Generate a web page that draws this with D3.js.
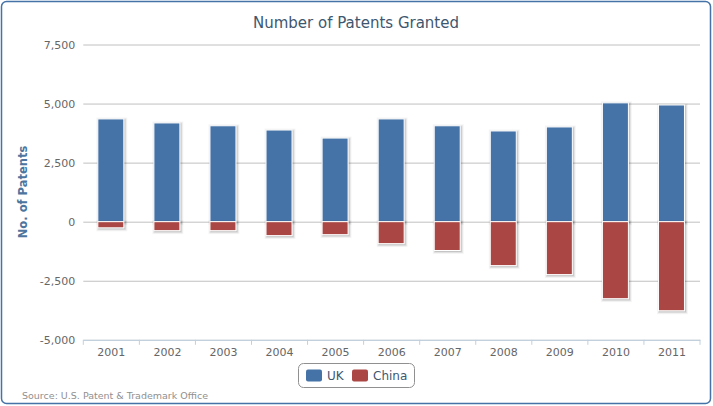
<!DOCTYPE html>
<html><head><meta charset="utf-8">
<script src="https://cdn.jsdelivr.net/npm/d3@7"></script>
<style>body{margin:0;background:#fff}svg{display:block}text{font-family:"DejaVu Sans",Verdana,sans-serif}</style>
</head><body><svg id="c" width="713" height="406"></svg>
<script>
const years = ["2001","2002","2003","2004","2005","2006","2007","2008","2009","2010","2011"];
const uk = [4350, 4180, 4060, 3880, 3540, 4350, 4060, 3840, 4010, 5030, 4940];
const china = [-260, -380, -380, -590, -550, -930, -1220, -1860, -2240, -3260, -3770];
const yTicks = [-5000, -2500, 0, 2500, 5000, 7500];
const seriesNames = ["UK", "China"];
const colors = ["#4572A7", "#AA4643"];

const svg = d3.select("#c");
const L = 83.3, R = 700, T = 44.5, B = 339.8;
const x = d3.scaleBand().domain(years).range([L, R]);
const y = d3.scaleLinear().domain([-5000, 7500]).range([B, T]);

svg.append("rect").attr("x", 1.5).attr("y", 1.5).attr("width", 709).attr("height", 402)
  .attr("rx", 5).attr("fill", "#fff").attr("stroke", "#4572A7").attr("stroke-width", 1.5);

svg.append("text").attr("x", 356).attr("y", 28).attr("text-anchor", "middle")
  .attr("font-size", 15).attr("fill", "#3E576F").text("Number of Patents Granted");

// grid
const ya = d3.axisLeft(y).tickValues(yTicks).tickSize(-(R - L)).tickPadding(8).tickFormat(d3.format(","));
const gy = svg.append("g").attr("transform", `translate(${L},0)`).call(ya);
gy.select(".domain").remove();
gy.selectAll(".tick line").attr("stroke", "#C0C0C0").attr("stroke-width", 1);
gy.selectAll(".tick text").attr("font-size", 11).attr("fill", "#666").attr("font-family", "DejaVu Sans, sans-serif")
  .text(d => d3.format(",")(d).replace("−", "-"));

svg.append("text").attr("transform", "translate(27,192) rotate(-90)").attr("text-anchor", "middle")
  .attr("font-size", 11.5).attr("font-weight", "bold").attr("fill", "#4d759e").text("No. of Patents");

// x axis
const xa = d3.axisBottom(x).tickSize(0).tickPadding(8);
const gx = svg.append("g").attr("transform", `translate(0,${B})`).call(xa);
gx.select(".domain").attr("stroke", "#C0D0E0");
gx.selectAll(".tick text").attr("font-size", 11).attr("fill", "#666").attr("font-family", "DejaVu Sans, sans-serif");
const bounds = years.map(d => x(d)).concat([R]);
svg.append("g").selectAll("line").data(bounds).join("line")
  .attr("x1", d => d).attr("x2", d => d).attr("y1", B).attr("y2", B + 5)
  .attr("stroke", "#C0D0E0");

// bars
const bw = 26;
const data = [uk, china];
data.forEach((vals, si) => {
  const g = svg.append("g");
  years.forEach((yr, i) => {
    const v = vals[i];
    const x0 = x(yr) + x.bandwidth() / 2 - bw / 2 - 0.5;
    const y0 = Math.min(y(v), y(0)), h = Math.abs(y(v) - y(0));
    [1, 2, 3].forEach(k => {
      g.append("rect").attr("x", x0 + 1).attr("y", y0 + 1).attr("width", bw).attr("height", h)
        .attr("fill", "none").attr("stroke", "#000").attr("stroke-opacity", 0.04 * k).attr("stroke-width", 7 - 2 * k);
    });
    g.append("rect").attr("x", x0).attr("y", y0).attr("width", bw).attr("height", h)
      .attr("fill", colors[si]).attr("stroke", "#fff").attr("stroke-width", 1);
  });
});

// legend
const lg = svg.append("g");
lg.append("rect").attr("x", 298.5).attr("y", 363.5).attr("width", 116).attr("height", 24).attr("rx", 5)
  .attr("fill", "#fff").attr("stroke", "#909090");
const lx = [306, 352];
seriesNames.forEach((n, i) => {
  lg.append("rect").attr("x", lx[i]).attr("y", 369.5).attr("width", 16).attr("height", 12).attr("rx", 2)
    .attr("fill", colors[i]);
  lg.append("text").attr("x", lx[i] + 21).attr("y", 380).attr("font-size", 12).attr("fill", "#3E576F").text(n);
});

svg.append("text").attr("x", 22).attr("y", 399).attr("font-size", 9.5).attr("fill", "#909090")
  .text("Source: U.S. Patent & Trademark Office");
</script></body></html>
